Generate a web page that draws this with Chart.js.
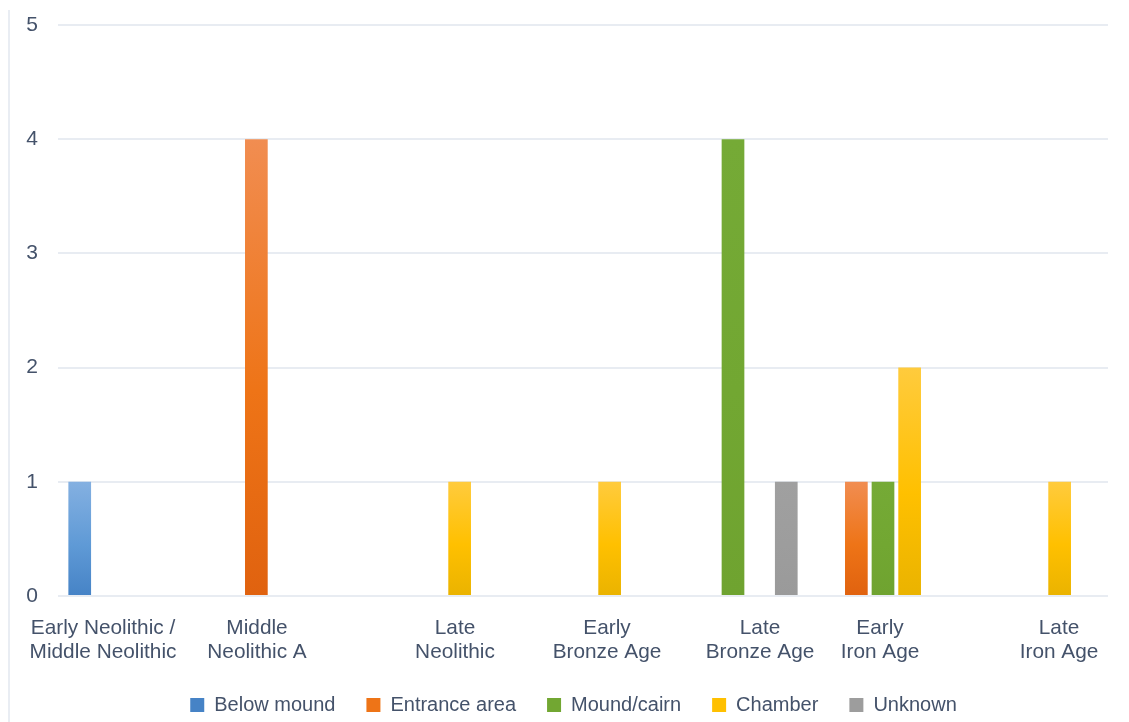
<!DOCTYPE html>
<html>
<head>
<meta charset="utf-8">
<script src="https://cdn.jsdelivr.net/npm/chart.js@4.4.1/dist/chart.umd.min.js"></script>
<style>
  html, body { margin: 0; padding: 0; background: #ffffff; }
  #wrap { position: relative; width: 1129px; height: 722px; }
  #edge { position: absolute; left: 8px; top: 10px; width: 2px; height: 712px; background: #e9edf3; }
  canvas { position: absolute; left: 0; top: 0; }
</style>
</head>
<body>
<div id="wrap">
  <div id="edge"></div>
  <canvas id="c" width="1129" height="722"></canvas>
</div>
<script>
// ---- data ----
const categories = [
  ["Early Neolithic /", "Middle Neolithic"],
  ["Middle", "Neolithic A"],
  ["Late", "Neolithic"],
  ["Early", "Bronze Age"],
  ["Late", "Bronze Age"],
  ["Early", "Iron Age"],
  ["Late", "Iron Age"]
];
const seriesNames = ["Below mound", "Entrance area", "Mound/cairn", "Chamber", "Unknown"];
const belowMound   = [1, 0, 0, 0, 0, 0, 0];
const entranceArea = [0, 4, 0, 0, 0, 1, 0];
const moundCairn   = [0, 0, 0, 0, 4, 1, 0];
const chamber      = [0, 0, 1, 1, 0, 2, 1];
const unknown      = [0, 0, 0, 0, 1, 0, 0];
const yTicks = [0, 1, 2, 3, 4, 5];

// ---- styling ----
const TEXT = '#44526a';
const FONT = "'Liberation Sans', Arial, Helvetica, sans-serif";
// label placement offsets (px) relative to category centres, as in the original layout
const labelShift = [-30, -26, 22, 24, 27, -3, 26];

// gradient colour stops per series: [top, middle, bottom]
const palettes = [
  ['#84b0e1', '#5f9ad6', '#4683c6'],
  ['#f18d51', '#ee7417', '#e0620f'],
  ['#75aa36', '#72a732', '#6fa330'],
  ['#ffcb3d', '#ffc000', '#eab300'],
  ['#a0a0a0', '#9d9d9d', '#9a9a9a']
];

function gradientFill(idx) {
  const p = palettes[idx];
  return function (ctx) {
    const chart = ctx.chart;
    if (!chart.chartArea || !ctx.parsed || ctx.type !== 'data') return p[1];
    const ys = chart.scales.y;
    const top = ys.getPixelForValue(ctx.parsed.y);
    const bottom = ys.getPixelForValue(0);
    if (!isFinite(top) || Math.abs(bottom - top) < 1) return p[1];
    const g = chart.ctx.createLinearGradient(0, top, 0, bottom);
    g.addColorStop(0, p[0]);
    g.addColorStop(0.55, p[1]);
    g.addColorStop(1, p[2]);
    return g;
  };
}

// category scale whose tick labels (only) may be nudged sideways
class ShiftedCategoryScale extends Chart.CategoryScale {
  getPixelForTick(index) {
    const base = super.getPixelForTick(index);
    return this._shiftLabels ? base + (labelShift[index] || 0) : base;
  }
  drawLabels(chartArea) {
    this._labelItems = null;
    this._shiftLabels = true;
    try { super.drawLabels(chartArea); } finally { this._shiftLabels = false; }
  }
}
ShiftedCategoryScale.id = 'shiftedCategory';
ShiftedCategoryScale.defaults = Chart.CategoryScale.defaults;
Chart.register(ShiftedCategoryScale);

// legend box: fixed height, and a left edge that centres the row as in the original
const legendBox = {
  id: 'legendBox',
  beforeInit(chart) {
    const lg = chart.legend;
    const orig = lg.fit;
    lg.fit = function () {
      orig.call(lg);
      lg.height = 58;
    };
  },
  afterLayout(chart) {
    const lg = chart.legend;
    lg.left = 39;
    lg.width = lg.right - lg.left;
  }
};

const seriesData = [belowMound, entranceArea, moundCairn, chamber, unknown];

new Chart(document.getElementById('c'), {
  type: 'bar',
  data: {
    labels: categories,
    datasets: seriesData.map((d, i) => ({
      label: seriesNames[i],
      data: d,
      backgroundColor: gradientFill(i),
      borderWidth: 0,
      categoryPercentage: 0.888,
      barPercentage: 0.852
    }))
  },
  options: {
    responsive: false,
    animation: false,
    devicePixelRatio: 1,
    layout: { padding: { top: 25, left: 0, right: 21, bottom: 0 } },
    plugins: {
      legend: {
        position: 'bottom',
        labels: {
          boxWidth: 14,
          boxHeight: 14,
          padding: 31,
          color: TEXT,
          font: { family: FONT, size: 20 }
        }
      },
      tooltip: { enabled: false }
    },
    scales: {
      x: {
        type: 'shiftedCategory',
        grid: { display: false, drawTicks: false },
        border: { display: false },
        afterFit(scale) {
          scale.height = 68;
          scale.paddingLeft = 0;
          scale.paddingRight = 0;
        },
        ticks: {
          autoSkip: false,
          maxRotation: 0,
          minRotation: 0,
          padding: 20,
          color: TEXT,
          font: { family: FONT, size: 20.8, lineHeight: 1.16 }
        }
      },
      y: {
        min: 0,
        max: 5,
        afterBuildTicks(scale) { scale.ticks = yTicks.map(v => ({ value: v })); },
        afterFit(scale) {
          scale.width = 58;
          scale.paddingTop = 0;
          scale.paddingBottom = 0;
        },
        grid: { color: '#e8ecf2', lineWidth: 2, drawTicks: false },
        border: { display: false },
        ticks: {
          padding: 20,
          color: TEXT,
          font: { family: FONT, size: 21 }
        }
      }
    }
  },
  plugins: [legendBox]
});
</script>
</body>
</html>
